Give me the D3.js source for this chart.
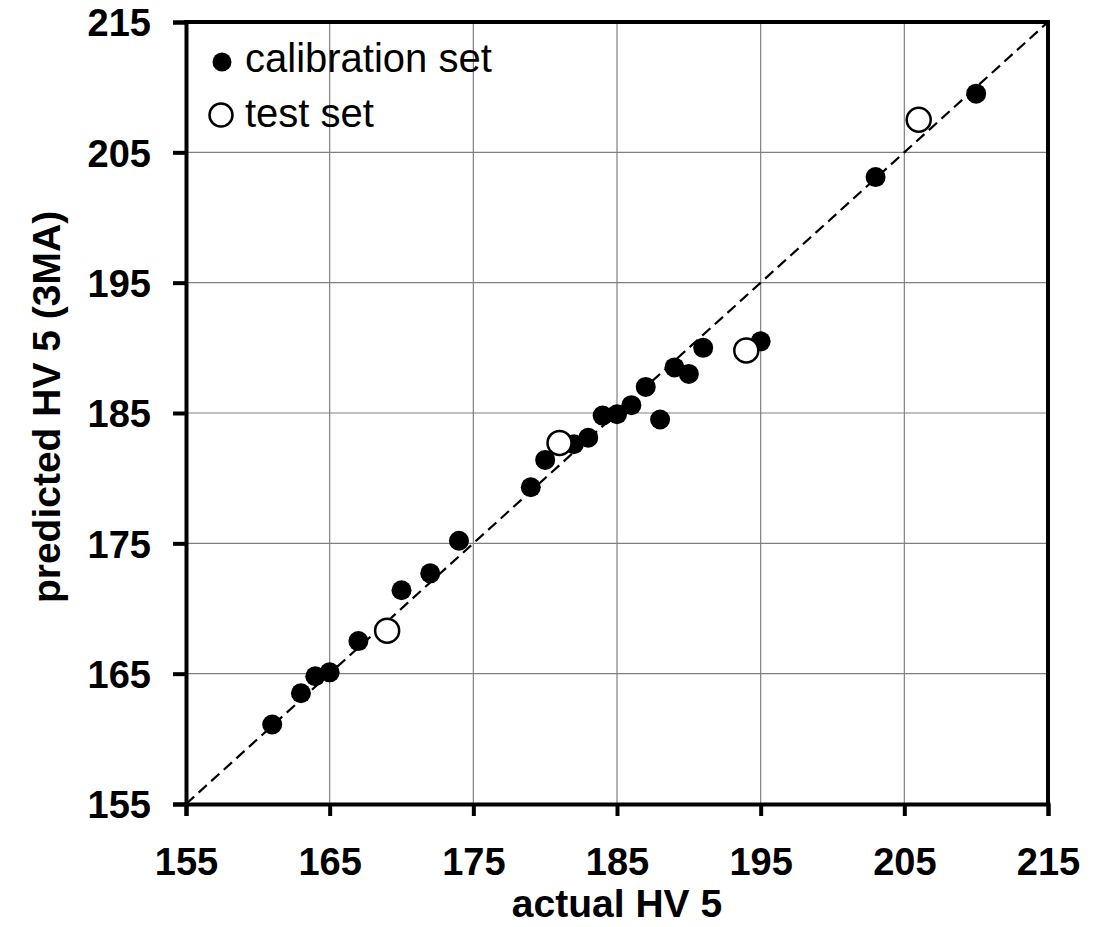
<!DOCTYPE html>
<html>
<head>
<meta charset="utf-8">
<script src="https://cdn.jsdelivr.net/npm/d3@7"></script>
<style>
  body { margin: 0; background: #fff; }
  text { font-family: "Liberation Sans", Arial, sans-serif; }
</style>
</head>
<body>
<div id="chart"></div>
<script>
// calibration set (actual, predicted)
const calActual = [161, 163, 164, 165, 167, 170, 172, 174, 179, 180, 182, 183, 184, 185, 186, 187, 188, 189, 190, 191, 195, 203, 210];
const calPred   = [161.1, 163.5, 164.8, 165.1, 167.5, 171.4, 172.7, 175.2, 179.3, 181.4, 182.6, 183.1, 184.8, 184.9, 185.6, 187.0, 184.5, 188.5, 188.0, 190.0, 190.5, 203.1, 209.5];
// test set
const testActual = [169, 181, 194, 206];
const testPred   = [168.3, 182.7, 189.8, 207.5];
const ticks = [155, 165, 175, 185, 195, 205, 215];

const width = 1095, height = 927;
const margin = {left: 186, right: 47, top: 22, bottom: 123};

const svg = d3.select("#chart").append("svg")
  .attr("width", width)
  .attr("height", height);

const x = d3.scaleLinear().domain([155, 215]).range([margin.left, width - margin.right]);
const y = d3.scaleLinear().domain([155, 215]).range([height - margin.bottom, margin.top]);

// grid
svg.append("g")
  .selectAll("line")
  .data(ticks)
  .join("line")
  .attr("x1", d => x(d)).attr("x2", d => x(d))
  .attr("y1", y(155)).attr("y2", y(215))
  .attr("stroke", "#808080").attr("stroke-width", 1.2);
svg.append("g")
  .selectAll("line")
  .data(ticks)
  .join("line")
  .attr("x1", x(155)).attr("x2", x(215))
  .attr("y1", d => y(d)).attr("y2", d => y(d))
  .attr("stroke", "#808080").attr("stroke-width", 1.2);

// 1:1 line
svg.append("line")
  .attr("x1", x(155)).attr("y1", y(155))
  .attr("x2", x(215)).attr("y2", y(215))
  .attr("stroke", "#000").attr("stroke-width", 2.2)
  .attr("stroke-dasharray", "11,6");

// axes
const xAxis = svg.append("g")
  .attr("transform", `translate(0,${y(155)})`)
  .call(d3.axisBottom(x).tickValues(ticks).tickSize(12).tickPadding(32));
const yAxis = svg.append("g")
  .attr("transform", `translate(${x(155)},0)`)
  .call(d3.axisLeft(y).tickValues(ticks).tickSize(13).tickPadding(22));

[xAxis, yAxis].forEach(ax => {
  ax.select(".domain").attr("stroke", "#000").attr("stroke-width", 4);
  ax.selectAll(".tick line").attr("stroke", "#000").attr("stroke-width", 4);
  ax.selectAll(".tick text")
    .attr("fill", "#000")
    .style("font-size", "38px")
    .style("font-weight", "bold");
});
yAxis.selectAll(".tick text").attr("dy", "0.36em");

// top and right frame
svg.append("line")
  .attr("x1", x(155) - 2).attr("x2", x(215) + 2)
  .attr("y1", y(215)).attr("y2", y(215))
  .attr("stroke", "#000").attr("stroke-width", 4);
svg.append("line")
  .attr("x1", x(215)).attr("x2", x(215))
  .attr("y1", y(215)).attr("y2", y(155))
  .attr("stroke", "#000").attr("stroke-width", 4);

// points
const cal = calActual.map((d, i) => ({a: d, p: calPred[i]}));
const test = testActual.map((d, i) => ({a: d, p: testPred[i]}));

svg.append("g")
  .selectAll("circle")
  .data(cal)
  .join("circle")
  .attr("cx", d => x(d.a))
  .attr("cy", d => y(d.p))
  .attr("r", 10)
  .attr("fill", "#000");

svg.append("g")
  .selectAll("circle")
  .data(test)
  .join("circle")
  .attr("cx", d => x(d.a))
  .attr("cy", d => y(d.p))
  .attr("r", 12)
  .attr("fill", "#fff")
  .attr("stroke", "#000")
  .attr("stroke-width", 2.5);

// legend
const legend = svg.append("g");
legend.append("circle").attr("cx", 222).attr("cy", 62).attr("r", 9.5).attr("fill", "#000");
legend.append("text").attr("x", 245).attr("y", 72).style("font-size", "40px").text("calibration set");
legend.append("circle").attr("cx", 221).attr("cy", 115).attr("r", 11.5)
  .attr("fill", "#fff").attr("stroke", "#000").attr("stroke-width", 2.5);
legend.append("text").attr("x", 245).attr("y", 127).style("font-size", "40px").text("test set");

// axis titles
svg.append("text")
  .attr("x", x(185)).attr("y", 917)
  .attr("text-anchor", "middle")
  .style("font-size", "39px").style("font-weight", "bold")
  .text("actual HV 5");
svg.append("text")
  .attr("transform", `translate(60,407) rotate(-90)`)
  .attr("text-anchor", "middle")
  .style("font-size", "39px").style("font-weight", "bold")
  .text("predicted HV 5 (3MA)");
</script>
</body>
</html>
